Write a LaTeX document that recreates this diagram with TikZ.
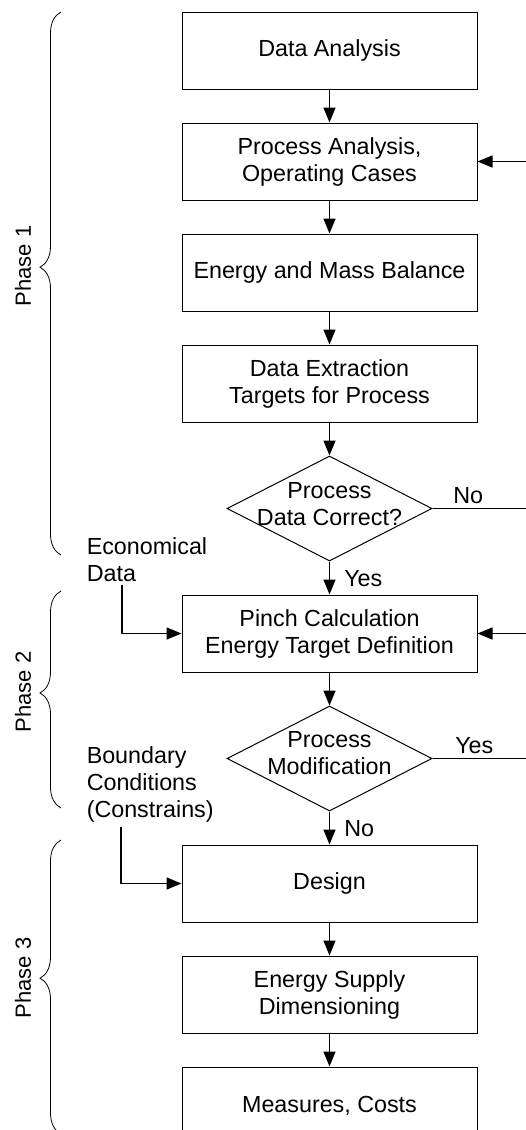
\documentclass[tikz,border=0pt]{standalone}
\usepackage{fontspec}
\setmainfont{Liberation Sans}
\usetikzlibrary{arrows.meta,positioning,shapes.geometric,decorations.pathreplacing}

\begin{document}
\begin{tikzpicture}[->,>={Triangle[length=15pt,width=12pt]}
  ,line width=1.5pt
  ,node distance=33pt
  ,font=\fontsize{23.3}{27}\selectfont]
  \tikzstyle{block}
  =[draw,line width=1pt,rectangle,minimum width=295pt,minimum height=77pt,align=center,inner sep=0pt]
  \tikzstyle{decision}
  =[draw,line width=1pt,diamond,minimum width=205pt,minimum height=105pt,inner sep=0pt]
  \tikzstyle{lbl}=[inner sep=0pt,align=left]
  \tikzstyle{phase}=[inner sep=0pt,rotate=90,font=\fontsize{22}{26}\selectfont]
  \tikzstyle{brace}=[-,line width=0.8pt,decorate,decoration={brace,amplitude=21pt,aspect=0.53}]

  \useasboundingbox (0,0) rectangle (526pt,-1130pt);
  \clip (0,0) rectangle (526pt,-1130pt);

  % main chain
  \node[block] (dat) at (329.5pt,-50.5pt) {Data Analysis};
  \node[block,below=of dat] (proc) {Process Analysis,\\Operating Cases};
  \node[block,below=of proc] (bal) {Energy and Mass Balance};
  \node[block,below=of bal] (ext) {Data Extraction\\Targets for Process};
  \node[decision,below=of ext
  ,label={[lbl,align=center,yshift=4pt]center:Process\\Data Correct?}] (chk) {};
  \node[block,below=of chk] (pinch) {Pinch Calculation\\Energy Target Definition};
  \node[decision,below=of pinch
  ,label={[lbl,align=center,yshift=5pt]center:Process\\Modification}] (mod) {};
  \node[block,below=of mod] (des) {Design};
  \node[block,below=of des] (sup) {Energy Supply\\Dimensioning};
  \node[block,below=of sup] (cost) {Measures, Costs};

  % answers
  \node[lbl,anchor=base west] (no1) at ([xshift=20pt,yshift=5.5pt]chk.east) {No};
  \node[lbl,anchor=north west] (yes1) at ([xshift=14pt,yshift=-8pt]chk.south) {Yes};
  \node[lbl,anchor=base west] (yes2) at ([xshift=22pt,yshift=5.5pt]mod.east) {Yes};
  \node[lbl,anchor=north west] (no2) at ([xshift=14pt,yshift=-8pt]mod.south) {No};

  % inputs
  \node[lbl,anchor=west] (econ) at (86pt,-560pt) {Economical\\Data};
  \node[lbl,anchor=west] (bound) at (86pt,-784pt) {Boundary\\Conditions\\(Constrains)};

  % phases
  \node[phase] (ph1) at (23pt,-266pt) {Phase 1};
  \node[phase] (ph2) at (23pt,-692pt) {Phase 2};
  \node[phase] (ph3) at (23pt,-978pt) {Phase 3};
  \draw[brace] (61pt,-555pt) -- (61pt,-12pt);
  \draw[brace] (61pt,-808pt) -- (61pt,-591pt);
  \draw[brace] (61pt,-1134pt) -- (61pt,-840pt);

  \path
  (dat)   edge (proc)
  (proc)  edge (bal)
  (bal)   edge (ext)
  (ext)   edge (chk)
  (chk)   edge (pinch)
  (pinch) edge (mod)
  (mod)   edge (des)
  (des)   edge (sup)
  (sup)   edge (cost)
  ;
  \draw (chk.east) -- ++(130pt,0) |- (proc.east);
  \draw (mod.east) -- ++(130pt,0) |- (pinch.east);
  \draw ([xshift=36pt,yshift=-2pt]econ.south west) |- (pinch.west);
  \draw ([xshift=35pt,yshift=-4pt]bound.south west) |- (des.west);

\end{tikzpicture}
\end{document}
